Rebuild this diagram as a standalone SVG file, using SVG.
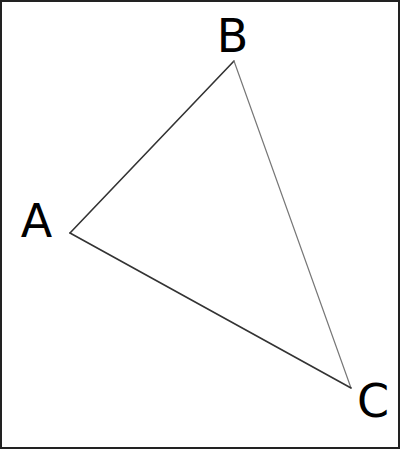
<svg xmlns="http://www.w3.org/2000/svg" width="400" height="449" viewBox="0 0 400 449">
<style>
.lbl{font-family:"DejaVu Sans",sans-serif;font-size:46px;fill:#000;text-anchor:middle}
.e{fill:none;stroke-linecap:round}
</style>
<rect x="1" y="1" width="398" height="447" fill="#fff" stroke="#222" stroke-width="2"/>
<g id="connectors">
<line class="e" x1="70" y1="233" x2="234" y2="61" stroke="#333" stroke-width="1.6"/>
<line class="e" x1="234" y1="61" x2="351" y2="388" stroke="#777" stroke-width="1.2"/>
<line class="e" x1="70" y1="233" x2="351" y2="388" stroke="#333" stroke-width="1.6"/>
</g>
<g id="A"><text class="lbl" x="36.5" y="237">A</text></g>
<g id="B"><text class="lbl" x="232.5" y="52">B</text></g>
<g id="C"><text class="lbl" x="373" y="417">C</text></g>
</svg>
